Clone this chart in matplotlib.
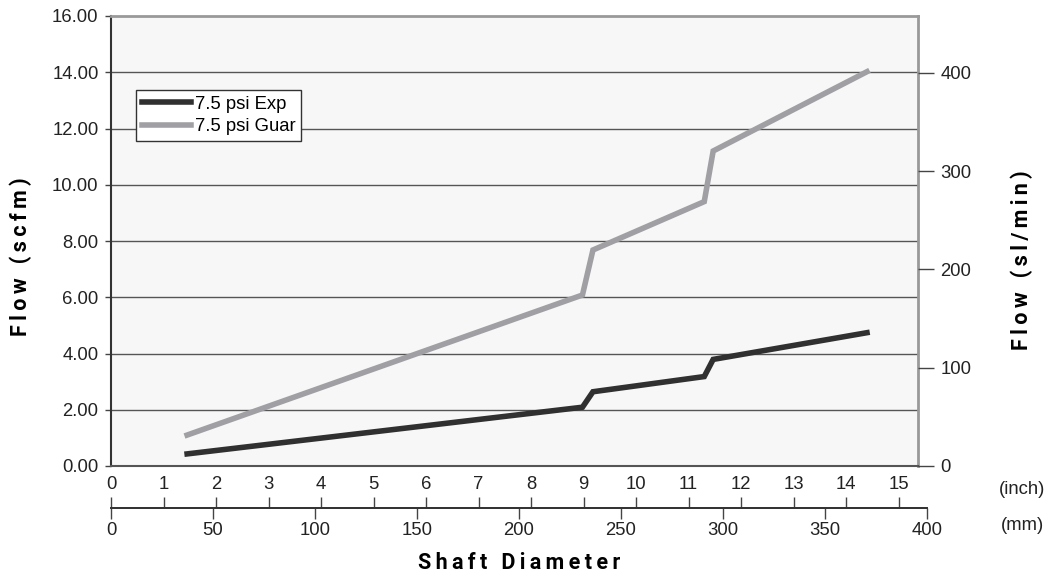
import matplotlib.pyplot as plt
from matplotlib.ticker import FormatStrFormatter

# shaft diameter (inch) and flow (scfm)
shaft_in = [1.45, 8.98, 9.18, 11.30, 11.47, 14.40]
flow_exp = [0.43, 2.09, 2.64, 3.18, 3.79, 4.74]
flow_guar = [1.10, 6.08, 7.68, 9.40, 11.20, 14.02]
labels = ['7.5 psi Exp', '7.5 psi Guar']

W, H = 1049, 577
fig = plt.figure(figsize=(W / 100, H / 100), dpi=100)

tick_font = ['Liberation Sans', 'DejaVu Sans']
bold_font = ['Roboto', 'DejaVu Sans']
fs = 13.3

def spaced(s):
    return '\u2009'.join(s)

px_in = 52.5  # pixels per inch on the bottom scale
left, right, top, bottom = 111, 917.7, 16, 466
ax = fig.add_axes([left / W, 1 - bottom / H, (right - left) / W, (bottom - top) / H])
ax.set_facecolor('#f7f7f7')
ax.plot(shaft_in, flow_exp, color='#303030', lw=4, label=labels[0], solid_joinstyle='miter')
ax.plot(shaft_in, flow_guar, color='#a0a0a4', lw=4, label=labels[1], solid_joinstyle='miter')
ax.set_xlim(0, (right - left) / px_in)
ax.set_ylim(0, 16)
ax.set_yticks(range(0, 17, 2))
ax.yaxis.set_major_formatter(FormatStrFormatter('%.2f'))
ax.set_xticks([])
for y in range(2, 16, 2):
    ax.axhline(y, color='#555555', lw=1.0, zorder=0.5)
ax.tick_params(axis='y', direction='out', length=4, width=1, color='#444444',
               labelsize=fs, labelcolor='#222222', pad=5)
for t in ax.get_yticklabels():
    t.set_family(tick_font)
ax.spines['left'].set_color('#333333')
ax.spines['left'].set_linewidth(1.5)
ax.spines['bottom'].set_color('#555555')
ax.spines['bottom'].set_linewidth(1.5)
ax.spines['top'].set_color('#999999')
ax.spines['top'].set_linewidth(2)
ax.spines['right'].set_color('#999999')
ax.spines['right'].set_linewidth(2)

leg = ax.legend(loc='upper left', bbox_to_anchor=((136 - left) / (right - left), (bottom - 90) / (bottom - top)),
                borderaxespad=0, frameon=True, fancybox=False, handlelength=2.7,
                handletextpad=0.2, borderpad=0.3, labelspacing=0.3,
                prop={'family': tick_font, 'size': fs})
leg.get_frame().set_edgecolor('#333333')
leg.get_frame().set_linewidth(1)
leg.get_frame().set_facecolor('white')
leg.get_frame().set_alpha(1)

fig.text(21 / W, 1 - 257 / H, spaced('Flow (scfm)'), rotation=90,
         ha='center', va='center', fontsize=15.5, fontweight='bold', family=bold_font)

# right axis in sl/min
ax2 = ax.twinx()
ax2.set_ylim(0, 458)
ax2.set_yticks([0, 100, 200, 300, 400])
ax2.tick_params(axis='y', direction='out', length=11.5, width=1, color='#444444',
                labelsize=fs, labelcolor='#222222', pad=5)
for t in ax2.get_yticklabels():
    t.set_family(tick_font)
for s in ax2.spines.values():
    s.set_visible(False)
fig.text(1022 / W, 1 - 260 / H, spaced('Flow (sl/min)'), rotation=90,
         ha='center', va='center', fontsize=15.5, fontweight='bold', family=bold_font)

# bottom double scale: inch above, mm below
scale_left, scale_right, scale_y = 111, 927, 508
pos = [scale_left / W, 1 - scale_y / H, (scale_right - scale_left) / W, 1e-5]
ax_in = fig.add_axes(pos)
ax_mm = fig.add_axes(pos)
for a in (ax_in, ax_mm):
    a.patch.set_visible(False)
    a.set_yticks([])
    for s in a.spines.values():
        s.set_visible(False)

ax_in.set_xlim(0, (scale_right - scale_left) / px_in)
ax_in.xaxis.tick_top()
ax_in.set_xticks(range(0, 16))
ax_in.spines['top'].set_visible(True)
ax_in.spines['top'].set_color('#333333')
ax_in.spines['top'].set_linewidth(1.3)
ax_in.tick_params(axis='x', direction='out', length=8, width=1, color='#444444',
                  labelsize=fs, labelcolor='#222222', pad=3)

ax_mm.set_xlim(0, 400)
ax_mm.set_xticks(range(0, 401, 50))
ax_mm.spines['bottom'].set_visible(True)
ax_mm.spines['bottom'].set_color('#333333')
ax_mm.spines['bottom'].set_linewidth(1.3)
ax_mm.tick_params(axis='x', direction='out', length=8, width=1, color='#444444',
                  labelsize=fs, labelcolor='#222222', pad=2)
for a in (ax_in, ax_mm):
    for t in a.get_xticklabels():
        t.set_family(tick_font)

fig.text(1022 / W, 1 - 489 / H, '(inch)', ha='center', va='center', fontsize=fs,
         color='#222222', family=tick_font)
fig.text(1022 / W, 1 - 525 / H, '(mm)', ha='center', va='center', fontsize=fs,
         color='#222222', family=tick_font)
fig.text(519 / W, 1 - 563 / H, spaced('Shaft Diameter'), ha='center', va='center',
         fontsize=15.5, fontweight='bold', family=bold_font)

fig.savefig('out.png', dpi=100)
